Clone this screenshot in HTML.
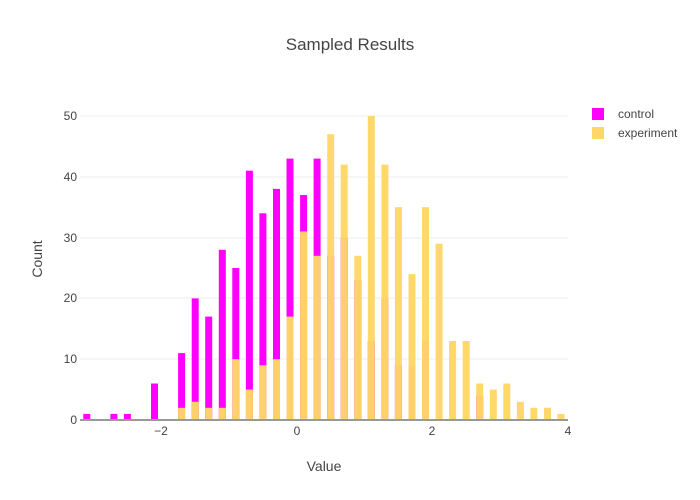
<!DOCTYPE html><html><head><style>body{margin:0;background:#fff}svg{display:block;font-family:"Liberation Sans",sans-serif}</style></head><body>
<svg width="700" height="500" xmlns="http://www.w3.org/2000/svg">
<g stroke="#eee" stroke-width="1">
<line x1="80" x2="568" y1="116" y2="116"/><line x1="80" x2="568" y1="177" y2="177"/><line x1="80" x2="568" y1="238" y2="238"/><line x1="80" x2="568" y1="298" y2="298"/><line x1="80" x2="568" y1="359" y2="359"/>
</g>
<g fill="#ff00ff">
<rect x="83.3" y="413.9" width="7" height="6.1"/><rect x="110.4" y="413.9" width="7" height="6.1"/><rect x="123.9" y="413.9" width="7" height="6.1"/>
<rect x="151" y="383.5" width="7" height="36.5"/><rect x="178.1" y="353.1" width="7" height="66.9"/><rect x="191.7" y="298.4" width="7" height="121.6"/>
<rect x="205.2" y="316.6" width="7" height="103.4"/><rect x="218.8" y="249.8" width="7" height="170.2"/><rect x="232.3" y="268" width="7" height="152"/>
<rect x="245.9" y="170.7" width="7" height="249.3"/><rect x="259.4" y="213.3" width="7" height="206.7"/><rect x="273" y="188.9" width="7" height="231.1"/>
<rect x="286.5" y="158.6" width="7" height="261.4"/><rect x="300.1" y="195" width="7" height="225"/><rect x="313.6" y="158.6" width="7" height="261.4"/>
<rect x="327.2" y="255.8" width="7" height="164.2"/><rect x="340.7" y="237.6" width="7" height="182.4"/><rect x="354.3" y="280.2" width="7" height="139.8"/>
<rect x="367.8" y="341" width="7" height="79"/><rect x="381.4" y="298.4" width="7" height="121.6"/><rect x="394.9" y="365.3" width="7" height="54.7"/>
<rect x="408.5" y="365.3" width="7" height="54.7"/><rect x="422" y="341" width="7" height="79"/><rect x="476.2" y="395.7" width="7" height="24.3"/>
</g>
<g fill="#ffd766" fill-opacity="0.97">
<rect x="178.1" y="407.8" width="7" height="12.2"/><rect x="191.7" y="401.8" width="7" height="18.2"/><rect x="205.2" y="407.8" width="7" height="12.2"/>
<rect x="218.8" y="407.8" width="7" height="12.2"/><rect x="232.3" y="359.2" width="7" height="60.8"/><rect x="245.9" y="389.6" width="7" height="30.4"/>
<rect x="259.4" y="365.3" width="7" height="54.7"/><rect x="273" y="359.2" width="7" height="60.8"/><rect x="286.5" y="316.6" width="7" height="103.4"/>
<rect x="300.1" y="231.5" width="7" height="188.5"/><rect x="313.6" y="255.8" width="7" height="164.2"/><rect x="327.2" y="134.2" width="7" height="285.8"/>
<rect x="340.7" y="164.6" width="7" height="255.4"/><rect x="354.3" y="255.8" width="7" height="164.2"/><rect x="367.8" y="116" width="7" height="304"/>
<rect x="381.4" y="164.6" width="7" height="255.4"/><rect x="394.9" y="207.2" width="7" height="212.8"/><rect x="408.5" y="274.1" width="7" height="145.9"/>
<rect x="422" y="207.2" width="7" height="212.8"/><rect x="435.6" y="243.7" width="7" height="176.3"/><rect x="449.1" y="341" width="7" height="79"/>
<rect x="462.7" y="341" width="7" height="79"/><rect x="476.2" y="383.5" width="7" height="36.5"/><rect x="489.8" y="389.6" width="7" height="30.4"/>
<rect x="503.3" y="383.5" width="7" height="36.5"/><rect x="516.9" y="401.8" width="7" height="18.2"/><rect x="530.4" y="407.8" width="7" height="12.2"/>
<rect x="544" y="407.8" width="7" height="12.2"/><rect x="557.5" y="413.9" width="7" height="6.1"/>
</g>
<line x1="80" x2="568" y1="420" y2="420" stroke="#999" stroke-width="2"/>
<g fill="#444" font-size="12" text-anchor="end">
<text x="77" y="424">0</text><text x="77" y="363">10</text><text x="77" y="302">20</text><text x="77" y="242">30</text><text x="77" y="181">40</text><text x="77" y="120">50</text>
</g>
<g fill="#444" font-size="12" text-anchor="middle">
<text x="161" y="435">−2</text><text x="297" y="435">0</text><text x="432" y="435">2</text><text x="568" y="435">4</text>
<text x="324" y="471" font-size="14">Value</text>
<text x="350" y="50" font-size="17">Sampled Results</text>
<text transform="translate(42,259) rotate(-90)" font-size="14">Count</text>
</g>
<rect x="592" y="108" width="12" height="12" fill="#ff00ff"/>
<rect x="592" y="127" width="12" height="12" fill="#ffd766"/>
<g fill="#444" font-size="12"><text x="618" y="118">control</text><text x="618" y="137">experiment</text></g>
</svg></body></html>
